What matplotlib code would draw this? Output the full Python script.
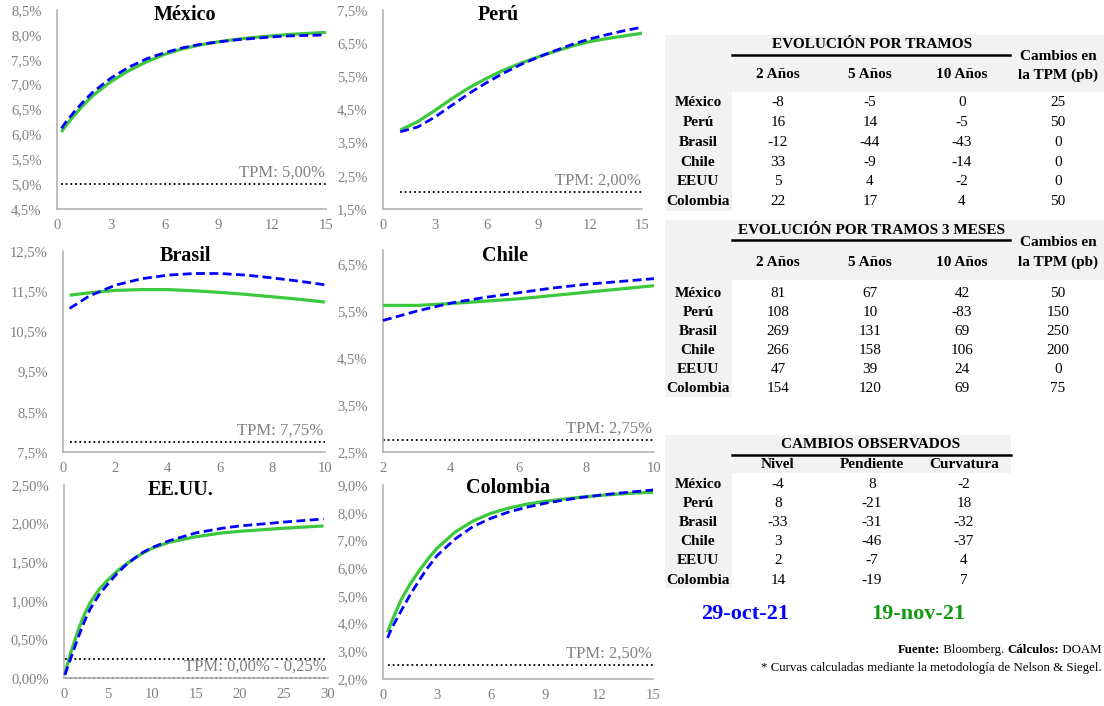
import matplotlib
matplotlib.use('Agg')
import matplotlib.pyplot as plt
from matplotlib.patches import Rectangle
from matplotlib.lines import Line2D
from matplotlib.ticker import FuncFormatter

W, H = 1104, 706
plt.rcParams['font.family'] = ['Liberation Serif', 'DejaVu Serif']

BLUE = '#0000ff'
GREEN = '#3cc83c'
GRAY_TXT = '#808080'
GRAY_BG = '#f2f2f2'

# ---------------- data (yields in %) ----------------
date_old = '29-oct-21'
date_new = '19-nov-21'

mex_t = [0.25, 0.5, 1, 1.5, 2, 3, 4, 5, 6, 7, 8, 9, 10, 11, 12, 13, 14, 15]
mex_old = [6.12, 6.25, 6.47, 6.67, 6.85, 7.13, 7.35, 7.52, 7.64, 7.74, 7.81, 7.86, 7.90, 7.93, 7.96, 7.98, 7.99, 8.00]
mex_new = [6.05, 6.18, 6.40, 6.60, 6.78, 7.06, 7.28, 7.46, 7.61, 7.72, 7.80, 7.86, 7.91, 7.95, 7.98, 8.01, 8.03, 8.05]

per_t = [1, 2, 3, 4, 5, 6, 7, 8, 9, 10, 11, 12, 13, 14, 15]
per_old = [3.83, 3.97, 4.27, 4.63, 4.99, 5.31, 5.60, 5.86, 6.08, 6.28, 6.47, 6.63, 6.76, 6.88, 6.98]
per_new = [3.88, 4.13, 4.47, 4.83, 5.16, 5.44, 5.69, 5.90, 6.09, 6.26, 6.42, 6.55, 6.64, 6.72, 6.80]

bra_t = [0.25, 1, 2, 3, 4, 5, 6, 7, 8, 9, 10]
bra_old = [11.07, 11.38, 11.65, 11.81, 11.90, 11.94, 11.94, 11.90, 11.83, 11.75, 11.66]
bra_new = [11.40, 11.46, 11.52, 11.54, 11.54, 11.51, 11.47, 11.42, 11.36, 11.30, 11.23]

chi_t = [2, 3, 4, 5, 6, 7, 8, 9, 10]
chi_old = [5.30, 5.50, 5.67, 5.79, 5.89, 5.99, 6.07, 6.13, 6.19]
chi_new = [5.62, 5.62, 5.66, 5.71, 5.76, 5.83, 5.90, 5.97, 6.04]

usa_t = [0.1, 0.25, 0.5, 0.75, 1, 1.5, 2, 2.5, 3, 4, 5, 6, 7, 8, 9, 10, 12, 15, 18, 20, 25, 29.5]
usa_old = [0.04, 0.09, 0.17, 0.25, 0.33, 0.49, 0.64, 0.78, 0.90, 1.08, 1.22, 1.35, 1.46, 1.55, 1.63, 1.69,
           1.78, 1.88, 1.94, 1.97, 2.02, 2.06]
usa_new = [0.05, 0.12, 0.22, 0.32, 0.41, 0.58, 0.74, 0.87, 0.98, 1.15, 1.27, 1.38, 1.47, 1.55, 1.62, 1.68,
           1.76, 1.83, 1.88, 1.90, 1.94, 1.97]

col_t = [0.25, 0.5, 1, 1.5, 2, 2.5, 3, 4, 5, 6, 7, 8, 9, 10, 11, 12, 13, 14, 15]
col_old = [3.48, 3.85, 4.45, 5.03, 5.55, 6.03, 6.45, 7.05, 7.50, 7.80, 8.03, 8.20, 8.34, 8.45, 8.55, 8.63, 8.70, 8.76, 8.82]
col_new = [3.68, 4.10, 4.85, 5.42, 5.90, 6.33, 6.72, 7.30, 7.70, 7.98, 8.17, 8.31, 8.41, 8.49, 8.56, 8.62, 8.67, 8.71, 8.74]

panel_titles = ['México', 'Perú', 'Brasil', 'Chile', 'EE.UU.', 'Colombia']
tpm_levels = [[5.00], [2.00], [7.75], [2.75], [0.00, 0.25], [2.50]]
tpm_labels = ['TPM: 5,00%', 'TPM: 2,00%', 'TPM: 7,75%', 'TPM: 2,75%', 'TPM: 0,00% - 0,25%', 'TPM: 2,50%']

countries = ['México', 'Perú', 'Brasil', 'Chile', 'EEUU', 'Colombia']
tramos_cols = ['2 Años', '5 Años', '10 Años']
t1_2y = [-8, 16, -12, 33, 5, 22]
t1_5y = [-5, 14, -44, -9, 4, 17]
t1_10y = [0, -5, -43, -14, -2, 4]
t1_tpm = [25, 50, 0, 0, 0, 50]

t2_2y = [81, 108, 269, 266, 47, 154]
t2_5y = [67, 10, 131, 158, 39, 120]
t2_10y = [42, -83, 69, 106, 24, 69]
t2_tpm = [50, 150, 250, 200, 0, 75]

obs_cols = ['Nivel', 'Pendiente', 'Curvatura']
t3_nivel = [-4, 8, -33, 3, 2, 14]
t3_pend = [8, -21, -31, -46, -7, -19]
t3_curv = [-2, 18, -32, -37, 4, 7]

# ---------------- figure ----------------
fig = plt.figure(figsize=(W / 100, H / 100), dpi=100)

panels = [
    dict(box=(57, 326, 10, 209), t=mex_t, a=mex_old, b=mex_new, ylim=(4.5, 8.5), ystep=0.5,
         xlim=(0, 15), xstep=3, dec=1, tx=0.475, ty=0.975),
    dict(box=(383, 642, 10, 209), t=per_t, a=per_old, b=per_new, ylim=(1.5, 7.5), ystep=1.0,
         xlim=(0, 15), xstep=3, dec=1, tx=0.445, ty=0.975),
    dict(box=(63, 325, 251, 452), t=bra_t, a=bra_old, b=bra_new, ylim=(7.5, 12.5), ystep=1.0,
         xlim=(0, 10), xstep=2, dec=1, tx=0.466, ty=0.975),
    dict(box=(383, 654, 250, 452), t=chi_t, a=chi_old, b=chi_new, ylim=(2.5, 6.8), ystep=1.0,
         xlim=(2, 10), xstep=2, dec=1, tx=0.45, ty=0.97),
    dict(box=(64, 328, 485, 678), t=usa_t, a=usa_old, b=usa_new, ylim=(0.0, 2.5), ystep=0.5,
         xlim=(0, 30), xstep=5, dec=2, tx=0.44, ty=0.975),
    dict(box=(383, 653, 485, 679), t=col_t, a=col_old, b=col_new, ylim=(2.0, 9.0), ystep=1.0,
         xlim=(0, 15), xstep=3, dec=1, tx=0.463, ty=0.985),
]

for i, p in enumerate(panels):
    l, r, t, b = p['box']
    ax = fig.add_axes([l / W, 1 - b / H, (r - l) / W, (b - t) / H])
    ax.set_xlim(*p['xlim'])
    ax.set_ylim(*p['ylim'])
    y0, y1 = p['ylim']
    n = int(round((y1 - y0) / p['ystep'] + 1e-9))
    ax.set_yticks([y0 + k * p['ystep'] for k in range(n + 1)])
    x0, x1 = p['xlim']
    nx = int(round((x1 - x0) / p['xstep']))
    ax.set_xticks([x0 + k * p['xstep'] for k in range(nx + 1)])
    d = p['dec']
    ax.yaxis.set_major_formatter(FuncFormatter(lambda v, pos, d=d: (f"{v:.{d}f}%").replace('.', ',')))
    ax.xaxis.set_major_formatter(FuncFormatter(lambda v, pos: f"{v:g}"))
    ax.tick_params(axis='both', length=0, labelsize=10.5, labelcolor=GRAY_TXT)
    ax.tick_params(axis='y', pad=11)
    ax.tick_params(axis='x', pad=7)
    for s in ['top', 'right']:
        ax.spines[s].set_visible(False)
    for s in ['left', 'bottom']:
        ax.spines[s].set_color('#b4b4b4')
        ax.spines[s].set_linewidth(1.2)
    ax.patch.set_alpha(0)
    # TPM lines
    for lev in tpm_levels[i]:
        ax.plot([p['t'][0], x1], [lev, lev], color='black', lw=1.3,
                linestyle=(0, (1, 1.6)), clip_on=False, zorder=2)
    ax.annotate(tpm_labels[i], xy=(1.0, min(tpm_levels[i])), xycoords=('axes fraction', 'data'),
                xytext=(-1, 2.5), textcoords='offset points', ha='right', va='bottom',
                fontsize=12, color=GRAY_TXT)
    ax.plot(p['t'], p['b'], color=GREEN, lw=2.3, solid_capstyle='butt', solid_joinstyle='round',
            zorder=3, clip_on=False)
    ax.plot(p['t'], p['a'], color=BLUE, lw=2.0, linestyle=(0, (3.2, 1.6)), zorder=4, clip_on=False)
    ax.text(p['tx'], p['ty'], panel_titles[i], transform=ax.transAxes, ha='center', va='center',
            fontsize=14.5, fontweight='bold', color='black')

# ---------------- tables ----------------
TFS = 11

def ftxt(x, y, s, **kw):
    opts = dict(ha='center', va='center', fontsize=TFS, color='black')
    opts.update(kw)
    return fig.text(x / W, 1 - y / H, s, **opts)

def frect(x0, y0, x1, y1, color=GRAY_BG):
    fig.add_artist(Rectangle((x0 / W, 1 - y1 / H), (x1 - x0) / W, (y1 - y0) / H,
                             transform=fig.transFigure, facecolor=color, edgecolor='none', zorder=0))

def fline(x0, x1, y):
    fig.add_artist(Line2D([x0 / W, x1 / W], [1 - y / H, 1 - y / H], transform=fig.transFigure,
                          color='black', lw=1.8))

COUNTRY_X = 698
COLS_X = [778, 870, 962]
TPM_X = 1058

def tramos_table(top, bottom_hdr, bottom, title, title_y, line_y, cambios_y, hdr_y, row_y0, row_dy, cols):
    frect(665, top, 1104, bottom_hdr)
    frect(665, top, 732, bottom)
    ftxt(872, title_y, title, fontweight='bold')
    fline(732, 1010, line_y)
    ftxt(TPM_X, cambios_y, 'Cambios en', fontweight='bold')
    ftxt(TPM_X, hdr_y, 'la TPM (pb)', fontweight='bold')
    for cx, name in zip(COLS_X, tramos_cols):
        ftxt(cx, hdr_y, name, fontweight='bold')
    for k, c in enumerate(countries):
        y = row_y0 + k * row_dy
        ftxt(COUNTRY_X, y, c, fontweight='bold')
        for cx, col in zip(COLS_X + [TPM_X], cols):
            ftxt(cx, y, str(col[k]))

tramos_table(35, 92, 211, 'EVOLUCIÓN POR TRAMOS', 45, 55, 57, 75, 102.3, 19.9,
             [t1_2y, t1_5y, t1_10y, t1_tpm])
tramos_table(220, 280, 397, 'EVOLUCIÓN POR TRAMOS 3 MESES', 230, 240, 243, 262, 293, 19.2,
             [t2_2y, t2_5y, t2_10y, t2_tpm])

# Table 3
frect(665, 435, 1011, 473)
frect(665, 435, 732, 588)
ftxt(871, 445, 'CAMBIOS OBSERVADOS', fontweight='bold')
fline(732, 1011, 454.5)
OBS_X = [778, 872, 964]
for cx, name in zip(OBS_X, obs_cols):
    ftxt(cx, 465, name, fontweight='bold')
for k, c in enumerate(countries):
    y = 484 + k * 19.2
    ftxt(COUNTRY_X, y, c, fontweight='bold')
    for cx, col in zip(OBS_X, [t3_nivel, t3_pend, t3_curv]):
        ftxt(cx, y, str(col[k]))

# dates
ftxt(745, 614, date_old, fontsize=16, fontweight='bold', color=BLUE)
ftxt(918, 614, date_new, fontsize=16, fontweight='bold', color='#129a12')

# footnotes
renderer = fig.canvas.get_renderer()
pieces = [('Fuente:', 'bold'), (' Bloomberg. ', 'normal'), ('Cálculos:', 'bold'), (' DOAM', 'normal')]
xr = 1102
for s, w in reversed(pieces):
    tt = fig.text(xr / W, 1 - 650 / H, s, ha='right', va='center', fontsize=9.3, fontweight=w)
    bb = tt.get_window_extent(renderer=renderer)
    xr -= bb.width
ftxt(1102, 668.5, '* Curvas calculadas mediante la metodología de Nelson & Siegel.', ha='right', fontsize=9.3)

fig.savefig('out.png', dpi=100)
